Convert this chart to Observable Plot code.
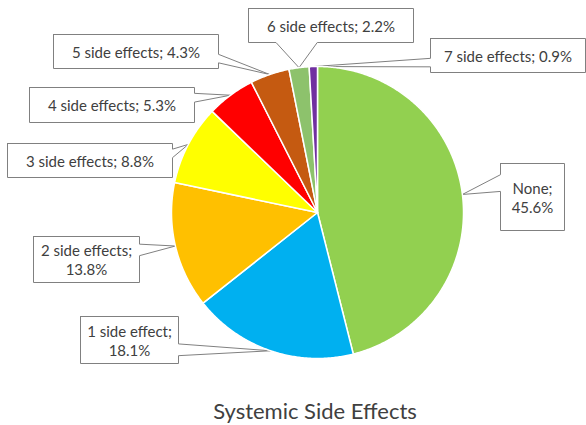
<!DOCTYPE html>
<html>
<head>
<meta charset="utf-8">
<script src="https://cdn.jsdelivr.net/npm/d3@7"></script>
<script src="https://cdn.jsdelivr.net/npm/@observablehq/plot@0.6"></script>
<style>
  html, body { margin: 0; padding: 0; background: #fff; }
  #chart svg { display: block; }
  #title { width: 586px; box-sizing: border-box; padding-left: 44px; text-align: center;
           font-family: Lato, "Open Sans", sans-serif; font-size: 22px; color: #404040; line-height: 37px; }
</style>
</head>
<body>
<div id="chart"></div>
<div id="title">Systemic Side Effects</div>
<script>
// ---- data ----
const categories = ["None", "1 side effect", "2 side effects", "3 side effects", "4 side effects", "5 side effects", "6 side effects", "7 side effects"];
const percents = [45.6, 18.1, 13.8, 8.8, 5.3, 4.3, 2.2, 0.9];
const sliceColors = ["#92D050", "#00B0F0", "#FFC000", "#FFFF00", "#FF0000", "#C55A11", "#8DC26C", "#7030A0"];

// ---- layout (label boxes, px relative to pie centre) ----
const labelWrap = [true, true, true, false, false, false, false, false];
const boxCenterX = [215, -188, -231, -227.5, -205.5, -181.5, 13.5, 190.5];
const boxCenterY = [-15.5, 127.5, 47, -52, -107.5, -161, -187, -157];
const boxW = [64, 98, 106, 165, 165, 165, 165, 155];
const boxH = [67, 47, 46, 34, 35, 34, 34, 34];

const W = 586, H = 392, CX = 317, CY = 212, R = 146;

const arcs = d3.pie().sort(null).value(d => d)(percents);

// slice polygons
const slicePts = [];
arcs.forEach((a, i) => {
  const key = categories[i];
  slicePts.push({key, x: 0, y: 0});
  const n = Math.max(2, Math.ceil((a.endAngle - a.startAngle) / (Math.PI / 360)));
  for (let k = 0; k <= n; k++) {
    const t = a.startAngle + (a.endAngle - a.startAngle) * k / n;
    slicePts.push({key, x: R * Math.sin(t), y: -R * Math.cos(t)});
  }
  slicePts.push({key, x: 0, y: 0});
});

// callout polygons
const calloutPts = [];
const labels = [];
arcs.forEach((a, i) => {
  const mid = (a.startAngle + a.endAngle) / 2;
  const tx = R * Math.sin(mid), ty = -R * Math.cos(mid);
  const cx = boxCenterX[i], cy = boxCenterY[i], w = boxW[i], h = boxH[i];
  const L = cx - w / 2, Rr = cx + w / 2, T = cy - h / 2, B = cy + h / 2;
  const dx = (tx - cx) / w, dy = (ty - cy) / h;
  let pts;
  if (Math.abs(dx) > Math.abs(dy)) {
    const b1 = ty < cy ? T + h * 2 / 12 : T + h * 7 / 12;
    const b2 = ty < cy ? T + h * 5 / 12 : T + h * 10 / 12;
    if (dx < 0) {
      pts = [[L, T], [Rr, T], [Rr, B], [L, B], [L, b2], [tx, ty], [L, b1], [L, T]];
    } else {
      pts = [[L, T], [Rr, T], [Rr, b1], [tx, ty], [Rr, b2], [Rr, B], [L, B], [L, T]];
    }
  } else {
    const a1 = tx < cx ? L + w * 2 / 12 : L + w * 7 / 12;
    const a2 = tx < cx ? L + w * 5 / 12 : L + w * 10 / 12;
    if (dy > 0) {
      pts = [[L, T], [Rr, T], [Rr, B], [a2, B], [tx, ty], [a1, B], [L, B], [L, T]];
    } else {
      pts = [[L, T], [a1, T], [tx, ty], [a2, T], [Rr, T], [Rr, B], [L, B], [L, T]];
    }
  }
  pts.forEach(([x, y]) => calloutPts.push({key: categories[i], x, y}));
  const pct = percents[i].toFixed(1) + "%";
  labels.push({x: cx, y: cy, text: labelWrap[i] ? `${categories[i]};\n${pct}` : `${categories[i]}; ${pct}`});
});

const chart = Plot.plot({
  width: W,
  height: H,
  margin: 0,
  style: {fontFamily: "Lato, 'Open Sans', sans-serif", background: "#fff"},
  x: {domain: [-CX, W - CX], range: [0, W], axis: null},
  y: {domain: [-CY, H - CY], range: [0, H], axis: null},
  color: {domain: categories, range: sliceColors},
  marks: [
    Plot.line(calloutPts, {x: "x", y: "y", z: "key", fill: "white", stroke: "#808080", strokeWidth: 1, strokeLinejoin: "miter", curve: "linear"}),
    Plot.line(slicePts, {x: "x", y: "y", z: "key", fill: "key", stroke: "white", strokeWidth: 1.5, strokeLinejoin: "round", curve: "linear"}),
    Plot.text(labels, {x: "x", y: "y", text: "text", fontSize: 15, lineHeight: 1.3, fill: "#404040", textAnchor: "middle"})
  ]
});
document.getElementById("chart").appendChild(chart);
</script>
</body>
</html>
